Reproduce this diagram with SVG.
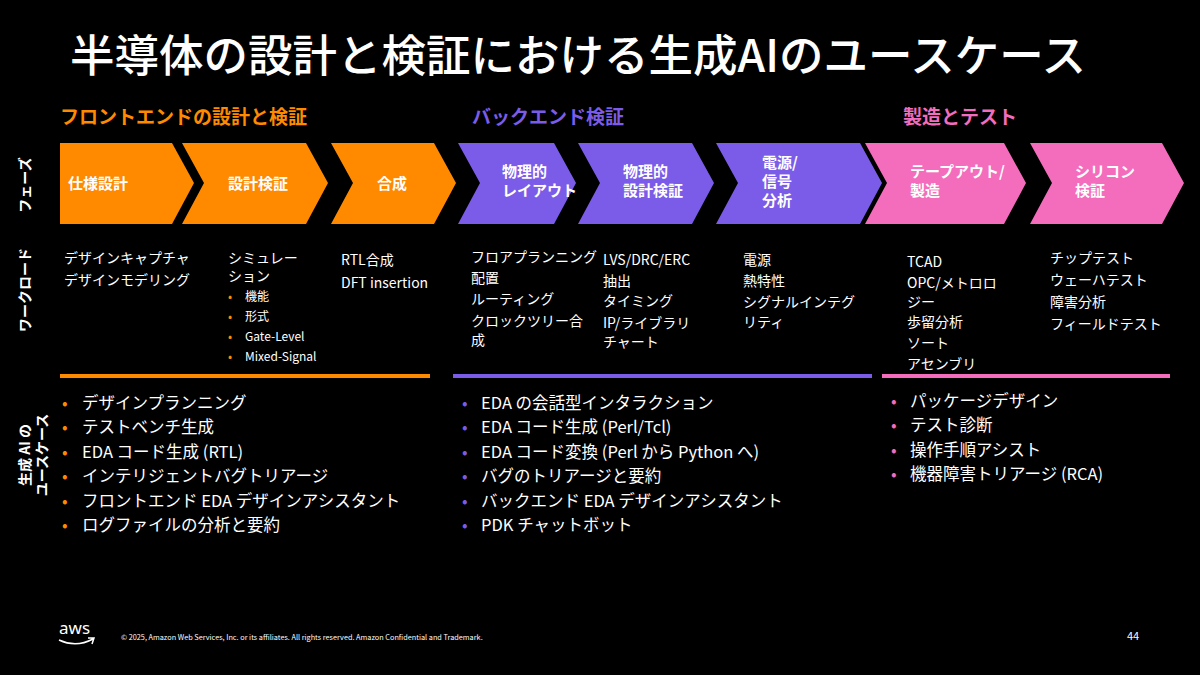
<svg xmlns="http://www.w3.org/2000/svg" width="1200" height="675" viewBox="0 0 1200 675">
<style>
text{font-family:"Noto Sans CJK JP","Noto Sans",sans-serif;fill:#fff}
.t{font-size:44.5px;font-weight:500}
.h{font-size:19px;font-weight:700}
.p{font-size:15px;font-weight:700}
.w{font-size:14px}
.ws{font-size:12px}
.u{font-size:16.5px}
.side{font-size:14px;font-weight:700}
.o{fill:#ff8a00}.v{fill:#7b5ce8}.k{fill:#f46cbc}
</style>
<rect width="1200" height="675" fill="#000"/>
<text class="t" x="70" y="72">半導体の設計と検証における生成AIのユースケース</text>
<text class="h o" x="60" y="124">フロントエンドの設計と検証</text>
<text class="h v" x="472" y="124">バックエンド検証</text>
<text class="h k" x="903" y="124">製造とテスト</text>
<text class="side" transform="translate(30,185) rotate(-90)" text-anchor="middle">フェーズ</text>
<text class="side" transform="translate(30,290) rotate(-90)" text-anchor="middle">ワークロード</text>
<text class="side" transform="translate(30,455) rotate(-90)" text-anchor="middle">生成 AI の</text>
<text class="side" transform="translate(47,455) rotate(-90)" text-anchor="middle">ユースケース</text>
<g id="phases">
<g id="p1"><polygon class="o" points="60,143 172,143 194,183 172,224 60,224"/><text class="p" x="68" y="189">仕様設計</text></g>
<g id="p2"><polygon class="o" points="182,143 306,143 328,183 306,224 182,224 204,183"/><text class="p" x="228" y="189">設計検証</text></g>
<g id="p3"><polygon class="o" points="331,143 434,143 456,183 434,224 331,224 353,183"/><text class="p" x="377" y="189">合成</text></g>
<g id="p4"><polygon class="v" points="458,143 554,143 576,183 554,224 458,224 480,183"/><text class="p" x="502" y="177">物理的</text><text class="p" x="502" y="196">レイアウト</text></g>
<g id="p5"><polygon class="v" points="578,143 692,143 714,183 692,224 578,224 600,183"/><text class="p" x="623" y="177">物理的</text><text class="p" x="623" y="196">設計検証</text></g>
<g id="p6"><polygon class="v" points="716,143 860,143 882,183 860,224 716,224 738,183"/><text class="p" x="762" y="168">電源/</text><text class="p" x="762" y="187">信号</text><text class="p" x="762" y="206">分析</text></g>
<g id="p7"><polygon class="k" points="865,143 1004,143 1026,183 1004,224 865,224 887,183"/><text class="p" x="910" y="177">テープアウト/</text><text class="p" x="910" y="196">製造</text></g>
<g id="p8"><polygon class="k" points="1030,143 1162,143 1184,183 1162,224 1030,224 1052,183"/><text class="p" x="1075" y="177">シリコン</text><text class="p" x="1075" y="196">検証</text></g>
</g>
<g id="workloads" class="w">
<text x="64" y="263">デザインキャプチャ</text><text x="64" y="285">デザインモデリング</text>
<text x="228" y="263">シミュレー</text><text x="228" y="281">ション</text>
<g class="ws"><text x="228" y="301" class="o">•</text><text x="245" y="301">機能</text>
<text x="228" y="321" class="o">•</text><text x="245" y="321">形式</text>
<text x="228" y="341" class="o">•</text><text x="245" y="341">Gate-Level</text>
<text x="228" y="361" class="o">•</text><text x="245" y="361">Mixed-Signal</text></g>
<text x="341" y="265">RTL合成</text><text x="341" y="288">DFT insertion</text>
<text x="471" y="262">フロアプランニング</text><text x="471" y="283">配置</text><text x="471" y="304">ルーティング</text><text x="471" y="326">クロックツリー合</text><text x="471" y="345">成</text>
<text x="603" y="265">LVS/DRC/ERC</text><text x="603" y="286">抽出</text><text x="603" y="306">タイミング</text><text x="603" y="328">IP/ライブラリ</text><text x="603" y="347">チャート</text>
<text x="743" y="265">電源</text><text x="743" y="286">熱特性</text><text x="743" y="307">シグナルインテグ</text><text x="743" y="327">リティ</text>
<text x="907" y="267">TCAD</text><text x="907" y="288">OPC/メトロロ</text><text x="907" y="307">ジー</text><text x="907" y="327">歩留分析</text><text x="907" y="348">ソート</text><text x="907" y="369">アセンブリ</text>
<text x="1050" y="263">チップテスト</text><text x="1050" y="285">ウェーハテスト</text><text x="1050" y="307">障害分析</text><text x="1050" y="329">フィールドテスト</text>
</g>
<g id="connectors">
<rect x="60" y="374" width="370" height="4" class="o"/>
<rect x="453" y="374" width="419" height="4" class="v"/>
<rect x="882" y="374" width="288" height="4" class="k"/>
</g>
<g id="usecases" class="u">
<g><text x="62" y="409" class="o">•</text><text x="82" y="409">デザインプランニング</text>
<text x="62" y="433" class="o">•</text><text x="82" y="433">テストベンチ生成</text>
<text x="62" y="458" class="o">•</text><text x="82" y="458">EDA コード生成 (RTL)</text>
<text x="62" y="482" class="o">•</text><text x="82" y="482">インテリジェントバグトリアージ</text>
<text x="62" y="507" class="o">•</text><text x="82" y="507">フロントエンド EDA デザインアシスタント</text>
<text x="62" y="531" class="o">•</text><text x="82" y="531">ログファイルの分析と要約</text></g>
<g><text x="462" y="409" class="v">•</text><text x="481" y="409">EDA の会話型インタラクション</text>
<text x="462" y="433" class="v">•</text><text x="481" y="433">EDA コード生成 (Perl/Tcl)</text>
<text x="462" y="458" class="v">•</text><text x="481" y="458">EDA コード変換 (Perl から Python へ)</text>
<text x="462" y="482" class="v">•</text><text x="481" y="482">バグのトリアージと要約</text>
<text x="462" y="507" class="v">•</text><text x="481" y="507">バックエンド EDA デザインアシスタント</text>
<text x="462" y="531" class="v">•</text><text x="481" y="531">PDK チャットボット</text></g>
<g><text x="891" y="407" class="k">•</text><text x="910" y="407">パッケージデザイン</text>
<text x="891" y="431" class="k">•</text><text x="910" y="431">テスト診断</text>
<text x="891" y="456" class="k">•</text><text x="910" y="456">操作手順アシスト</text>
<text x="891" y="480" class="k">•</text><text x="910" y="480">機器障害トリアージ (RCA)</text></g>
</g>
<text x="59" y="634" style="font-family:'Noto Sans',sans-serif;font-size:17px">aws</text>
<path d="M59,640 Q76,648 93,639 M88,638 L94,638 L92,644" fill="none" stroke="#fff" stroke-width="1.5"/>
<text x="121" y="640" style="font-size:7.3px">© 2025, Amazon Web Services, Inc. or its affiliates. All rights reserved. Amazon Confidential and Trademark.</text>
<text x="1127" y="640" style="font-size:11px">44</text>
</svg>
